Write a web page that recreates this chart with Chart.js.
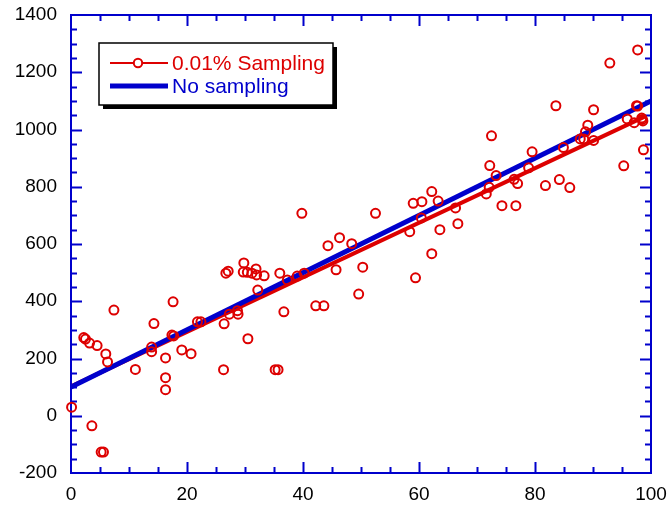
<!DOCTYPE html>
<html>
<head>
<meta charset="utf-8">
<script src="https://cdn.jsdelivr.net/npm/chart.js@4.4.1/dist/chart.umd.min.js"></script>
<style>
  html, body { margin: 0; padding: 0; background: #fff; }
  #wrap { width: 670px; height: 510px; }
</style>
</head>
<body>
<div id="wrap"><canvas id="chart" width="670" height="510"></canvas></div>
<script>
// sampled measurements (red circles)
const sampleX = [0.1, 2.2, 2.5, 3.2, 4.5, 3.6, 5.2, 5.6, 6.0, 6.3, 7.4, 11.1, 14.3, 13.9, 13.9,
  16.3, 16.3, 16.3, 17.6, 17.4, 17.7, 19.1, 20.7, 21.8, 22.4, 26.4, 26.3, 26.7, 27.1, 27.3,
  28.7, 28.8, 29.8, 29.7, 30.4, 30.5, 31.2, 31.9, 32.0, 32.2, 33.3, 35.2, 35.7, 36.0, 36.7,
  37.3, 39.0, 40.2, 39.8, 42.2, 43.6, 44.3, 46.3, 45.7, 48.4, 49.6, 50.3, 52.5, 58.4, 59.0,
  59.4, 60.4, 60.5, 62.2, 62.2, 63.3, 63.6, 66.3, 66.7, 71.6, 72.1, 72.2, 72.5, 73.3, 74.3,
  76.4, 77.0, 76.7, 78.9, 79.5, 81.8, 83.6, 84.2, 84.9, 86.0, 87.8, 88.4, 88.7, 89.1, 90.1,
  90.1, 92.9, 95.3, 95.9, 97.1, 97.5, 97.7, 97.7, 98.5, 98.4, 98.6, 98.7];
const sampleY = [30, 273, 268, 254, 245, -35, -127, -127, 216, 188, 369, 162, 322, 240, 224,
  202, 133, 91, 398, 282, 279, 230, 217, 328, 328, 321, 161, 498, 505, 355,
  367, 355, 534, 502, 501, 269, 498, 513, 492, 439, 489, 161, 161, 498, 363,
  474, 488, 498, 707, 384, 384, 594, 622, 510, 601, 425, 519, 707, 643, 742,
  482, 691, 748, 783, 566, 750, 650, 726, 671, 775, 798, 874, 978, 839, 734,
  826, 811, 734, 866, 922, 804, 1083, 825, 937, 797, 967, 967, 992, 1015, 962,
  1069, 1232, 873, 1037, 1024, 1083, 1082, 1278, 1035, 1040, 1030, 929];

// linear fits
const sampledFitX = [0, 99];
const sampledFitY = [102, 1046];
const fullFitX = [0, 100];
const fullFitY = [100, 1100];

const seriesNames = ['0.01% Sampling', 'No sampling'];
const xTickValues = [0, 20, 40, 60, 80, 100];
const yTickValues = [-200, 0, 200, 400, 600, 800, 1000, 1200, 1400];

const red = '#dd0000';
const blue = '#0000cc';
const font = 'Liberation Sans, Arial, sans-serif';

const pts = (xs, ys) => xs.map((x, i) => ({ x: x, y: ys[i] }));

// box with blue frame and inward ticks on every side
const framePlugin = {
  id: 'frame',
  beforeDatasetsDraw(chart) {
    const { ctx, chartArea: a, scales: { x, y } } = chart;
    ctx.save();
    ctx.strokeStyle = blue;
    ctx.lineWidth = 2;
    ctx.beginPath();
    for (let v = 5; v < 100; v += 5) {
      const px = Math.round(x.getPixelForValue(v)) + 0.5;
      const len = v % 20 === 0 ? 11 : 6;
      ctx.moveTo(px, a.bottom); ctx.lineTo(px, a.bottom - len);
      ctx.moveTo(px, a.top); ctx.lineTo(px, a.top + len);
    }
    for (let v = -150; v < 1400; v += 50) {
      const py = Math.round(y.getPixelForValue(v)) + 0.5;
      const len = v % 200 === 0 ? 11 : 6;
      ctx.moveTo(a.left, py); ctx.lineTo(a.left + len, py);
      ctx.moveTo(a.right, py); ctx.lineTo(a.right - len, py);
    }
    ctx.stroke();
    ctx.strokeRect(a.left, a.top, a.right - a.left, a.bottom - a.top);
    ctx.restore();
  }
};

const legendPlugin = {
  id: 'boxLegend',
  afterDraw(chart) {
    const ctx = chart.ctx;
    const bx = 99, by = 43, bw = 234, bh = 62;
    ctx.save();
    ctx.fillStyle = '#000';
    ctx.fillRect(bx + 4, by + 4, bw, bh);
    ctx.fillStyle = '#fff';
    ctx.fillRect(bx, by, bw, bh);
    ctx.strokeStyle = '#000';
    ctx.lineWidth = 1.5;
    ctx.strokeRect(bx, by, bw, bh);

    // row 1: red line with circle
    ctx.strokeStyle = red;
    ctx.lineWidth = 2;
    ctx.beginPath(); ctx.moveTo(110, 63); ctx.lineTo(168, 63); ctx.stroke();
    ctx.fillStyle = '#fff';
    ctx.beginPath(); ctx.arc(138, 63, 4.2, 0, Math.PI * 2); ctx.fill(); ctx.stroke();
    // row 2: blue thick line
    ctx.strokeStyle = blue;
    ctx.lineWidth = 5;
    ctx.beginPath(); ctx.moveTo(110, 86); ctx.lineTo(168, 86); ctx.stroke();

    ctx.font = '21px ' + font;
    ctx.textBaseline = 'middle';
    ctx.fillStyle = red;
    ctx.fillText(seriesNames[0], 172, 64);
    ctx.fillStyle = blue;
    ctx.fillText(seriesNames[1], 172, 87);
    ctx.restore();
  }
};

new Chart(document.getElementById('chart'), {
  type: 'scatter',
  data: {
    datasets: [
      {
        label: seriesNames[0],
        data: pts(sampleX, sampleY),
        showLine: false,
        pointStyle: 'circle',
        pointRadius: 4.5,
        pointBorderWidth: 2,
        pointBorderColor: red,
        pointBackgroundColor: 'rgba(0,0,0,0)',
        clip: false,
        order: 0
      },
      {
        label: seriesNames[1],
        data: pts(fullFitX, fullFitY),
        showLine: true,
        borderColor: blue,
        borderWidth: 5,
        pointRadius: 0,
        order: 1
      },
      {
        label: seriesNames[0] + ' fit',
        data: pts(sampledFitX, sampledFitY),
        showLine: true,
        borderColor: red,
        borderWidth: 4,
        pointRadius: 0,
        order: 2
      }
    ]
  },
  options: {
    responsive: false,
    animation: false,
    devicePixelRatio: 1,
    layout: { padding: { top: 15, right: 19, left: 0, bottom: 0 } },
    plugins: { legend: { display: false }, tooltip: { enabled: false } },
    scales: {
      x: {
        type: 'linear', min: 0, max: 100,
        afterBuildTicks: s => { s.ticks = xTickValues.map(v => ({ value: v })); },
        afterFit: s => { s.height = 37; s.paddingLeft = 0; s.paddingRight = 0; },
        grid: { display: false, drawTicks: false },
        border: { display: false },
        ticks: { color: '#000', padding: 10, maxRotation: 0, font: { family: font, size: 19 },
          callback: v => String(v) }
      },
      y: {
        type: 'linear', min: -200, max: 1400,
        afterBuildTicks: s => { s.ticks = yTickValues.map(v => ({ value: v })); },
        afterFit: s => { s.width = 71; s.paddingTop = 0; s.paddingBottom = 0; },
        grid: { display: false, drawTicks: false },
        border: { display: false },
        ticks: { color: '#000', padding: 14, font: { family: font, size: 19 },
          callback: v => String(v) }
      }
    }
  },
  plugins: [framePlugin, legendPlugin]
});
</script>
</body>
</html>
